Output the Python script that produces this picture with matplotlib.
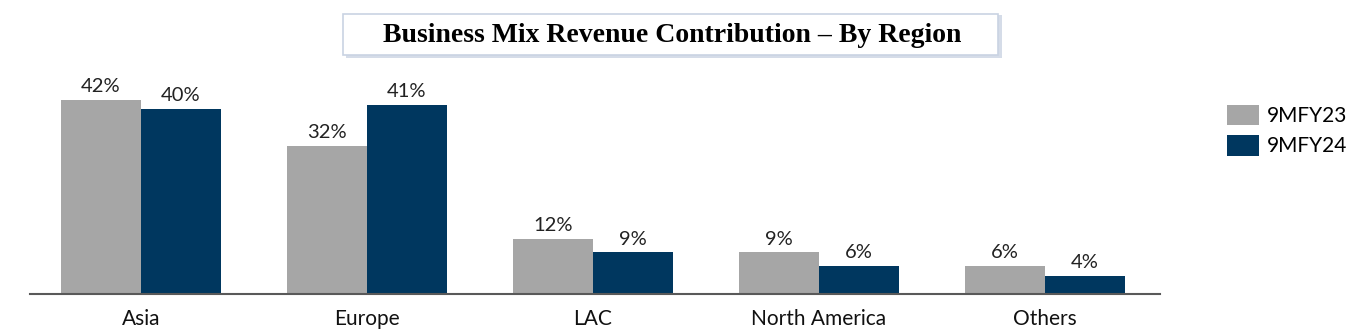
import matplotlib
matplotlib.use("Agg")
import matplotlib.pyplot as plt
from matplotlib.patches import Rectangle
import numpy as np

categories = ["Asia", "Europe", "LAC", "North America", "Others"]
series_names = ["9MFY23", "9MFY24"]
fy23 = [42, 32, 12, 9, 6]
fy24 = [40, 41, 9, 6, 4]
colors = ["#A6A6A6", "#00375F"]

W, H = 1350, 332
fig = plt.figure(figsize=(W/100, H/100), dpi=100)
ax = fig.add_axes([30/W, 1-294/H, (1160-30)/W, (294-81.5)/H])

x = np.arange(len(categories))
bw = 0.355
b1 = ax.bar(x - bw/2, fy23, bw, color=colors[0], label=series_names[0])
b2 = ax.bar(x + bw/2, fy24, bw, color=colors[1], label=series_names[1])
for bars, vals in ((b1, fy23), (b2, fy24)):
    for rect, v in zip(bars, vals):
        ax.annotate(f"{v}%", (rect.get_x()+rect.get_width()/2, rect.get_height()),
                    xytext=(0, 3.5), textcoords="offset points", ha="center", va="bottom",
                    fontsize=14.5, family="Lato", color="#222222")

ax.set_xlim(-0.49, 4.51)
ax.set_ylim(0, 46)
ax.set_xticks(x)
ax.set_xticklabels(categories, fontsize=15, family="Lato", color="#111111")
ax.tick_params(axis="x", length=0, pad=10.5)
ax.set_yticks([])
for s in ["top", "right", "left"]:
    ax.spines[s].set_visible(False)
ax.spines["bottom"].set_color("#595959")
ax.spines["bottom"].set_linewidth(1.5)

leg = fig.legend(handles=[b1, b2], labels=series_names, loc="upper left",
                 bbox_to_anchor=(1208/W, 1-86/H), frameon=False,
                 prop={"family": "Lato", "size": 15}, handlelength=1.55,
                 handleheight=1.15, handletextpad=0.4, labelspacing=0.42)

# title box
fig.patches.append(Rectangle((346/W, 1-58/H), (1002-346)/W, (58-15)/H,
                             transform=fig.transFigure, facecolor="#D5DCE8",
                             edgecolor="none", zorder=0))
fig.patches.append(Rectangle((343/W, 1-55/H), (998-343)/W, (55-14)/H,
                             transform=fig.transFigure, facecolor="white",
                             edgecolor="#C9D3E3", linewidth=1.2, zorder=1))
fig.text(672/W, 1-35/H, "Business Mix Revenue Contribution \u2013 By Region",
         ha="center", va="center", fontsize=20, fontweight="bold",
         family="Liberation Serif", color="black", zorder=2)

fig.savefig("out.png", dpi=100)
